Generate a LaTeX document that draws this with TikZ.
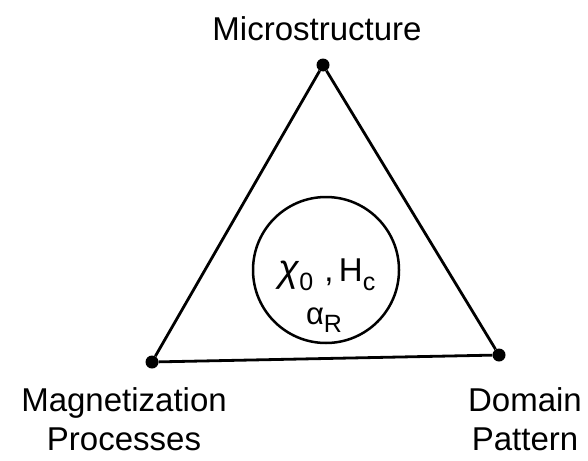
\documentclass[tikz,border=0pt]{standalone}
\usepackage{fontspec}
\setmainfont{Liberation Sans}
\usepackage{tikz}
\newcommand{\lowsub}[1]{\raisebox{-0.28em}{\fontsize{25}{25}\selectfont #1}}

\begin{document}
\begin{tikzpicture}[
          x=1pt, y=-1pt,
          vertex/.style={circle, fill=black, inner sep=0pt, minimum size=13pt},
          lbl/.style={font=\fontsize{33}{39}\selectfont, align=center, anchor=base},
          side/.style={line width=2.8pt}
        ]
          \useasboundingbox (0,0) rectangle (588,460);

          % corners
          \node[vertex] (micro) at (323, 65) {};
          \node[vertex] (magn) at (152, 362) {};
          \node[vertex] (dom) at (499, 355) {};

          \draw[side] (micro) -- (magn) -- (dom) -- (micro);

          % centre
          \node[draw, circle, line width=2.5pt, minimum size=146pt] (prop) at (326, 270) {};
          \node[font=\fontsize{33}{36}\selectfont, anchor=base] (chi) at (327, 281) {{\fontsize{38}{40}\selectfont\itshape χ}\lowsub{0}\,\,,\,H\lowsub{c}};
          \node[font=\fontsize{31}{36}\selectfont, anchor=base] (alpha) at (324, 324) {α\lowsub{R}};

          % labels
          \node[lbl] (tmicro) at (317, 41) {Microstructure};
          \node[lbl] (tmagn) at (124, 450) {Magnetization\\Processes};
          \node[lbl] (tdom) at (525, 450) {Domain\\Pattern};
        \end{tikzpicture}
\end{document}
